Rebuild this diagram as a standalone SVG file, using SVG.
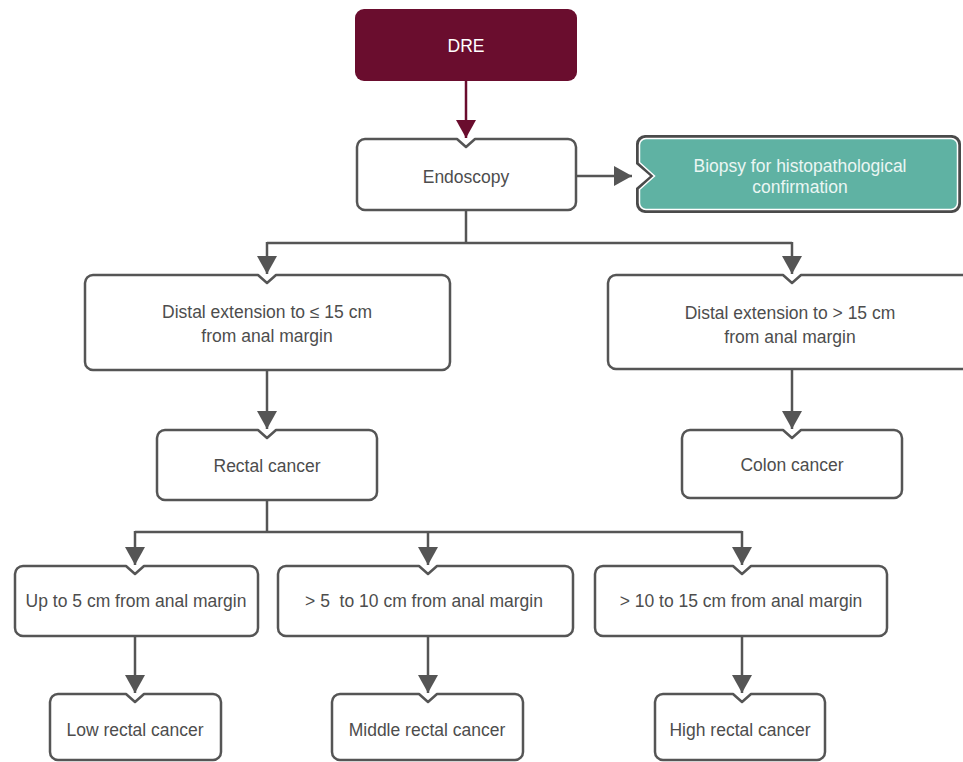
<svg xmlns="http://www.w3.org/2000/svg" width="963" height="762" viewBox="0 0 963 762">
<defs>
<style>
.box{fill:#fff;stroke:#555;stroke-width:2.5;stroke-linejoin:round}
.t{font-family:"Liberation Sans",Arial,sans-serif;font-size:17.5px;fill:#4d4d4d;text-anchor:middle}
.c{fill:none;stroke:#555;stroke-width:2.5}
</style>
<marker id="ah" markerUnits="userSpaceOnUse" markerWidth="20" markerHeight="20" refX="18" refY="10" orient="auto" viewBox="0 0 20 20"><path d="M0,0 L18,10 L0,20 Z" fill="#555"/></marker>
<marker id="ahm" markerUnits="userSpaceOnUse" markerWidth="20" markerHeight="20" refX="18" refY="10" orient="auto" viewBox="0 0 20 20"><path d="M0,0 L18,10 L0,20 Z" fill="#6a0d2e"/></marker>
</defs>
<rect width="963" height="762" fill="#fff"/>

<g id="connectors">
<line x1="466" y1="81" x2="466" y2="138" stroke="#6a0d2e" stroke-width="2.5" marker-end="url(#ahm)"/>
<line class="c" x1="576" y1="176" x2="632" y2="176" marker-end="url(#ah)"/>
<polyline class="c" points="466,210 466,243"/>
<polyline class="c" points="267,243 792,243"/>
<line class="c" x1="267" y1="242" x2="267" y2="274" marker-end="url(#ah)"/>
<line class="c" x1="792" y1="242" x2="792" y2="274" marker-end="url(#ah)"/>
<line class="c" x1="267" y1="370" x2="267" y2="429" marker-end="url(#ah)"/>
<line class="c" x1="792" y1="369" x2="792" y2="429" marker-end="url(#ah)"/>
<polyline class="c" points="267,500 267,532"/>
<polyline class="c" points="135,532 742,532"/>
<line class="c" x1="135" y1="531" x2="135" y2="565" marker-end="url(#ah)"/>
<line class="c" x1="428" y1="531" x2="428" y2="565" marker-end="url(#ah)"/>
<line class="c" x1="742" y1="531" x2="742" y2="565" marker-end="url(#ah)"/>
<line class="c" x1="135" y1="636" x2="135" y2="693" marker-end="url(#ah)"/>
<line class="c" x1="428" y1="636" x2="428" y2="693" marker-end="url(#ah)"/>
<line class="c" x1="742" y1="636" x2="742" y2="693" marker-end="url(#ah)"/>
</g>

<g id="dre">
<rect x="355" y="9" width="222" height="72" rx="9" fill="#6a0d2e"/>
<text class="t" x="466" y="52" style="fill:#fff">DRE</text>
</g>

<g id="endoscopy">
<path class="box" d="M365,139 H457 L466,147 L475,139 H568 A8,8 0 0 1 576,147 V202 A8,8 0 0 1 568,210 H365 A8,8 0 0 1 357,202 V147 A8,8 0 0 1 365,139 Z"/>
<text class="t" x="466" y="183">Endoscopy</text>
</g>

<g id="biopsy">
<path d="M645,135 H952 A9,9 0 0 1 961,144 V204 A9,9 0 0 1 952,213 H645 A9,9 0 0 1 636,204 V188 L650,176 L636,164 V144 A9,9 0 0 1 645,135 Z" fill="#4a4a4a"/>
<path d="M646,138.5 H951 A6.5,6.5 0 0 1 957.5,145 V203 A6.5,6.5 0 0 1 951,209.5 H646 A6.5,6.5 0 0 1 639.5,203 V189.5 L654.5,176 L639.5,162.5 V145 A6.5,6.5 0 0 1 646,138.5 Z" fill="#5fb2a3" stroke="#fff" stroke-width="1.5"/>
<text class="t" x="800" y="172" style="fill:#eaf6f3">Biopsy for histopathological</text>
<text class="t" x="800" y="193" style="fill:#eaf6f3">confirmation</text>
</g>

<g id="distal-le15">
<path class="box" d="M93,275 H258 L267,283 L276,275 H442 A8,8 0 0 1 450,283 V362 A8,8 0 0 1 442,370 H93 A8,8 0 0 1 85,362 V283 A8,8 0 0 1 93,275 Z"/>
<text class="t" x="267" y="318">Distal extension to ≤ 15 cm</text>
<text class="t" x="267" y="342">from anal margin</text>
</g>

<g id="distal-gt15">
<path class="box" d="M616,275 H783 L792,283 L801,275 H962 A8,8 0 0 1 970,283 V361 A8,8 0 0 1 962,369 H616 A8,8 0 0 1 608,361 V283 A8,8 0 0 1 616,275 Z"/>
<text class="t" x="790" y="319">Distal extension to &gt; 15 cm</text>
<text class="t" x="790" y="343">from anal margin</text>
</g>

<g id="rectal">
<path class="box" d="M165,430 H258 L267,438 L276,430 H369 A8,8 0 0 1 377,438 V492 A8,8 0 0 1 369,500 H165 A8,8 0 0 1 157,492 V438 A8,8 0 0 1 165,430 Z"/>
<text class="t" x="267" y="472">Rectal cancer</text>
</g>

<g id="colon">
<path class="box" d="M690,430 H783 L792,438 L801,430 H894 A8,8 0 0 1 902,438 V490 A8,8 0 0 1 894,498 H690 A8,8 0 0 1 682,490 V438 A8,8 0 0 1 690,430 Z"/>
<text class="t" x="792" y="471">Colon cancer</text>
</g>

<g id="up-to-5">
<path class="box" d="M23,566 H126 L135,574 L144,566 H250 A8,8 0 0 1 258,574 V628 A8,8 0 0 1 250,636 H23 A8,8 0 0 1 15,628 V574 A8,8 0 0 1 23,566 Z"/>
<text class="t" x="136" y="607">Up to 5 cm from anal margin</text>
</g>

<g id="five-to-ten">
<path class="box" d="M286,566 H419 L428,574 L437,566 H565 A8,8 0 0 1 573,574 V628 A8,8 0 0 1 565,636 H286 A8,8 0 0 1 278,628 V574 A8,8 0 0 1 286,566 Z"/>
<text class="t" x="424" y="607" xml:space="preserve">&gt; 5  to 10 cm from anal margin</text>
</g>

<g id="ten-to-fifteen">
<path class="box" d="M603,566 H733 L742,574 L751,566 H879 A8,8 0 0 1 887,574 V628 A8,8 0 0 1 879,636 H603 A8,8 0 0 1 595,628 V574 A8,8 0 0 1 603,566 Z"/>
<text class="t" x="741" y="607">&gt; 10 to 15 cm from anal margin</text>
</g>

<g id="low">
<path class="box" d="M58,694 H126 L135,702 L144,694 H213 A8,8 0 0 1 221,702 V752 A8,8 0 0 1 213,760 H58 A8,8 0 0 1 50,752 V702 A8,8 0 0 1 58,694 Z"/>
<text class="t" x="135" y="736">Low rectal cancer</text>
</g>

<g id="middle">
<path class="box" d="M340,694 H419 L428,702 L437,694 H515 A8,8 0 0 1 523,702 V752 A8,8 0 0 1 515,760 H340 A8,8 0 0 1 332,752 V702 A8,8 0 0 1 340,694 Z"/>
<text class="t" x="427" y="736">Middle rectal cancer</text>
</g>

<g id="high">
<path class="box" d="M663,694 H733 L742,702 L751,694 H817 A8,8 0 0 1 825,702 V752 A8,8 0 0 1 817,760 H663 A8,8 0 0 1 655,752 V702 A8,8 0 0 1 663,694 Z"/>
<text class="t" x="740" y="736">High rectal cancer</text>
</g>
</svg>
